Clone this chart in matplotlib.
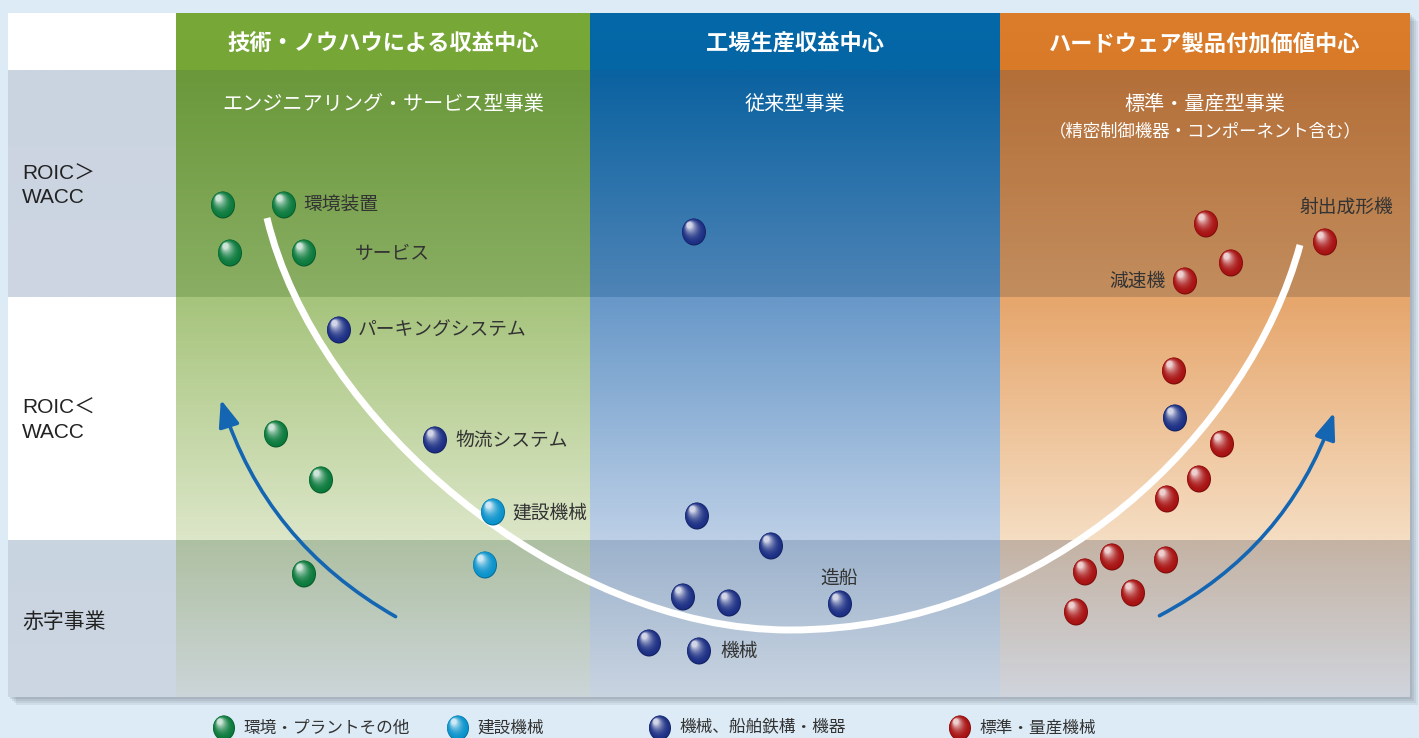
import numpy as np
import matplotlib.pyplot as plt
from matplotlib.patches import Ellipse, Rectangle, PathPatch, FancyArrowPatch
from matplotlib.path import Path
from matplotlib.colors import to_rgb

plt.rcParams['font.family'] = ['Noto Sans CJK JP', 'DejaVu Sans']

# 列見出し・行見出し
headers = ['技術・ノウハウによる収益中心', '工場生産収益中心', 'ハードウェア製品付加価値中心']
subtitles = ['エンジニアリング・サービス型事業', '従来型事業', '標準・量産型事業']
sub_note = '（精密制御機器・コンポーネント含む）'
row_labels = ['ROIC＞\nWACC', 'ROIC＜\nWACC', '赤字事業']

# 事業ごとの位置
env_x = [223, 284, 230, 304, 276, 321, 304]
env_y = [205, 205, 253, 253, 434, 480, 574]
con_x = [493, 485]
con_y = [512, 565]
mach_x = [339, 435, 694, 697, 771, 683, 729, 840, 649, 699, 1175]
mach_y = [330, 440, 232, 516, 546, 597, 603, 604, 643, 651, 418]
std_x = [1206, 1325, 1231, 1185, 1174, 1222, 1199, 1167, 1112, 1166, 1085, 1133, 1076]
std_y = [224, 242, 263, 281, 371, 444, 479, 499, 557, 560, 572, 593, 612]

# 事業名
point_labels = ['環境装置', 'サービス', 'パーキングシステム', '物流システム', '建設機械',
                '造船', '機械', '減速機', '射出成形機']
label_x = [303, 355, 358, 455, 512, 820, 720, 1166, 1300]
label_y = [205, 253, 330, 440, 513, 578, 651, 281, 207]
label_ha = ['left'] * 7 + ['right', 'left']

legend_labels = ['環境・プラントその他', '建設機械', '機械、船舶鉄構・機器', '標準・量産機械']
legend_x = [224, 458, 660, 960]

ball_colors = ['#0b7a3c', '#0a93cc', '#1c2f84', '#a81212']

# 表のグリッド
col_edges = [8, 176, 590, 1000, 1410]
row_edges = [13, 70, 297, 540, 697]
cell_colors = [
    [('#ffffff', '#ffffff'), ('#78a838', '#76a636'), ('#0468a8', '#0566a5'), ('#db7d2a', '#d87a28')],
    [('#cad4e0', '#cdd6e2'), ('#6a983a', '#8aae64'), ('#0a62a0', '#4f84b6'), ('#b46f38', '#c28d5e')],
    [('#ffffff', '#ffffff'), ('#a6c47c', '#dce6c8'), ('#6898c8', '#bccfe6'), ('#e6a66c', '#f5ddc2')],
    [('#c9d4e1', '#cdd7e3'), ('#aec0a2', '#ccd5d8'), ('#9cb2cc', '#c9d4e1'), ('#c4b3a4', '#d0d4dc')],
]


def ball(ax, x, y, color, w=24, h=27, z=6):
    base = np.array(to_rgb(color))
    ax.add_patch(Ellipse((x, y), w, h, color=base * 0.75, lw=0, zorder=z))
    n = 16
    for i in range(1, n):
        f = i / n
        c = base + (1 - base) * (f ** 2.2) * 0.92
        ax.add_patch(Ellipse((x - 0.2 * w * f, y - 0.27 * h * f),
                             w * (1 - 0.82 * f), h * (1 - 0.82 * f),
                             color=c, lw=0, zorder=z))


fig = plt.figure(figsize=(14.19, 7.38), dpi=100)
fig.patch.set_facecolor('#dcebf6')
ax = fig.add_axes([0, 0, 1, 1])
ax.set_facecolor('#dcebf6')

# 影
for k, a in enumerate([0.10, 0.10, 0.12, 0.14]):
    d = 8 - 2 * k
    ax.add_patch(Rectangle((col_edges[0] + d, row_edges[0] + d),
                           col_edges[-1] - col_edges[0], row_edges[-1] - row_edges[0],
                           color='#5a6470', alpha=a, lw=0, zorder=0))

# セル（縦グラデーション）
for r in range(4):
    for c in range(4):
        top, bot = np.array(to_rgb(cell_colors[r][c][0])), np.array(to_rgb(cell_colors[r][c][1]))
        t = np.linspace(0, 1, 64)[:, None, None]
        img = top * (1 - t) + bot * t
        ax.imshow(img, extent=(col_edges[c], col_edges[c + 1], row_edges[r + 1], row_edges[r]),
                  aspect='auto', interpolation='bilinear', zorder=1)

# 見出し
for i, h in enumerate(headers):
    cx = (col_edges[i + 1] + col_edges[i + 2]) / 2
    ax.text(cx, 44, h, color='white', fontsize=16, fontweight='bold', ha='center', va='center', zorder=3)
    ax.text(cx, 104, subtitles[i], color='white', fontsize=14.5, ha='center', va='center', zorder=3)
ax.text((col_edges[3] + col_edges[4]) / 2, 131, sub_note, color='white', fontsize=12.5,
        ha='center', va='center', zorder=3)

for r, lab in enumerate(row_labels):
    cy = (row_edges[r + 1] + row_edges[r + 2]) / 2
    ax.text(22, cy + (3 if r == 2 else 2), lab, color='#222222', fontsize=15,
            family=['Liberation Sans', 'Noto Sans CJK JP'],
            ha='left', va='center', linespacing=1.3, zorder=3)

# 白い曲線
verts = [(267, 218), (315, 420), (560, 630), (790, 630),
         (1050, 630), (1250, 430), (1300, 245)]
codes = [Path.MOVETO] + [Path.CURVE4] * 6
ax.add_patch(PathPatch(Path(verts, codes), fill=False, edgecolor='white', lw=5, zorder=4,
                       capstyle='butt'))

# 青い矢印
for p0, p1, rad in [((398, 618), (220, 397), -0.2), ((1157, 617), (1335, 410), 0.2)]:
    ax.add_patch(FancyArrowPatch(p0, p1, connectionstyle=f'arc3,rad={rad}',
                                 arrowstyle='-|>,head_length=0.9,head_width=0.35',
                                 mutation_scale=18, lw=2.6, color='#1466b2', zorder=4))

# 事業の玉
for xs, ys, col in [(env_x, env_y, ball_colors[0]), (con_x, con_y, ball_colors[1]),
                    (mach_x, mach_y, ball_colors[2]), (std_x, std_y, ball_colors[3])]:
    for x, y in zip(xs, ys):
        ball(ax, x, y, col)

for lab, x, y, ha in zip(point_labels, label_x, label_y, label_ha):
    ax.text(x, y, lab, color='#333333', fontsize=13.5, ha=ha, va='center', zorder=7)

# 凡例
for x, lab, col in zip(legend_x, legend_labels, ball_colors):
    ball(ax, x, 728, col, w=22, h=25)
    ax.text(x + 19, 728, lab, color='#333333', fontsize=12, ha='left', va='center', zorder=7)

ax.set_xlim(0, 1419)
ax.set_ylim(738, 0)
ax.axis('off')
fig.savefig('out.png', dpi=100, facecolor=fig.get_facecolor())
